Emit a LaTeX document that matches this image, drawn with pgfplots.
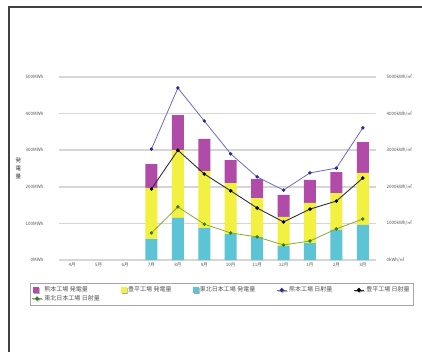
\documentclass[border=0pt]{standalone}
\usepackage{fontspec}
\setmainfont{Noto Sans CJK JP}
\usepackage{pgfplots}
\pgfplotsset{compat=1.18}
\usetikzlibrary{shadows}
\definecolor{cpur}{HTML}{B04CA8}
\definecolor{cyel}{HTML}{F2F040}
\definecolor{ccya}{HTML}{5CC4D4}
\definecolor{cblu}{HTML}{6A6AC8}
\definecolor{cbluM}{HTML}{2A2A90}
\definecolor{cblk}{HTML}{303030}
\definecolor{cgrn}{HTML}{8AA838}
\definecolor{cgrnM}{HTML}{2E7A2E}
\definecolor{ctxt}{HTML}{555555}
\begin{document}
\begin{tikzpicture}
\useasboundingbox (0pt,0pt) rectangle (422pt,351pt);
\fill[white] (0pt,0pt) rectangle (422pt,351pt);
\draw[line width=1.5pt, draw=black!75] (9pt,-5pt) -- (9pt,344pt) -- (430pt,344pt);
\begin{axis}[at={(59pt,91pt)}, anchor=south west, scale only axis,
  width=317pt, height=183pt,
  xmin=-0.5, xmax=11.5, ymin=0, ymax=5,
  ybar stacked, bar width=12pt,
  xtick={0,...,11},
  xticklabels={4月,5月,6月,7月,8月,9月,10月,11月,12月,1月,2月,3月},
  ytick={0,1,2,3,4,5},
  yticklabels={0MWh,100MWh,200MWh,300MWh,400MWh,500MWh},
  ymajorgrids, major grid style={line width=1.5pt, draw=black!16},
  axis line style={draw=none}, tick style={draw=none},
  ticklabel style={font=\fontsize{4.5}{5}\selectfont, text=ctxt},
  yticklabel style={xshift=-12pt},
  xticklabel style={yshift=1pt},
  ylabel={\shortstack{発\\電\\量}},
  ylabel style={rotate=-90, at={(axis description cs:-0.128,0.5)}, anchor=center, font=\fontsize{5.5}{6.5}\selectfont, text=black!80},
  legend columns=5,
  legend cell align=left,
  legend style={at={(axis description cs:-0.0915,-0.126)}, anchor=north west,
    draw=black!35, fill=white, drop shadow={opacity=0.25, shadow xshift=1pt, shadow yshift=-1pt},
    font=\fontsize{6}{7}\selectfont, text=ctxt, inner sep=1.5pt, row sep=-2pt,
    /tikz/every even column/.append style={column sep=19pt}},
]
\addplot[fill=ccya, draw=none, forget plot] coordinates {(3,0.57) (4,1.15) (5,0.87) (6,0.71) (7,0.63) (8,0.38) (9,0.46) (10,0.82) (11,0.96)};
\addplot[fill=cyel, draw=none, forget plot] coordinates {(3,1.40) (4,1.85) (5,1.56) (6,1.39) (7,1.06) (8,0.80) (9,1.10) (10,1.01) (11,1.42)};
\addplot[fill=cpur, draw=none, forget plot] coordinates {(3,0.65) (4,0.96) (5,0.88) (6,0.63) (7,0.52) (8,0.60) (9,0.63) (10,0.57) (11,0.84)};
\addlegendimage{legend image code/.code={\fill[cpur] (1pt,-2.5pt) rectangle (6pt,2.5pt);}}
\addlegendentry{熊本工場 発電量}
\addlegendimage{legend image code/.code={\fill[cyel] (1pt,-2.5pt) rectangle (6pt,2.5pt);}}
\addlegendentry{豊平工場 発電量}
\addlegendimage{legend image code/.code={\fill[ccya] (1pt,-2.5pt) rectangle (6pt,2.5pt);}}
\addlegendentry{東北日本工場 発電量}
\addlegendimage{legend image code/.code={\draw[cblu, line width=0.8pt] (0pt,0pt) -- (10pt,0pt); \fill[cbluM] (5pt,2pt) -- (6.8pt,0pt) -- (5pt,-2pt) -- (3.2pt,0pt) -- cycle;}}
\addlegendentry{熊本工場 日射量}
\addlegendimage{legend image code/.code={\draw[cblk, line width=0.8pt] (0pt,0pt) -- (10pt,0pt); \fill[black] (5pt,2pt) -- (6.8pt,0pt) -- (5pt,-2pt) -- (3.2pt,0pt) -- cycle;}}
\addlegendentry{豊平工場 日射量}
\addlegendimage{legend image code/.code={\draw[cgrn, line width=0.8pt] (0pt,0pt) -- (10pt,0pt); \fill[cgrnM] (5pt,2pt) -- (6.8pt,0pt) -- (5pt,-2pt) -- (3.2pt,0pt) -- cycle;}}
\addlegendentry{東北日本工場 日射量}
\end{axis}
\begin{axis}[at={(59pt,91pt)}, anchor=south west, scale only axis,
  width=317pt, height=183pt,
  xmin=-0.5, xmax=11.5, ymin=0, ymax=5000,
  axis y line*=right, hide x axis,
  axis line style={draw=none}, tick style={draw=none},
  ytick={0,1000,2000,3000,4000,5000},
  yticklabels={0kWh/㎡,1000kWh/㎡,2000kWh/㎡,3000kWh/㎡,4000kWh/㎡,5000kWh/㎡},
  yticklabel style={font=\fontsize{4.5}{5}\selectfont, text=ctxt, xshift=7pt},
]
\addplot[cgrn, line width=0.8pt, mark=*, mark size=1.3pt, mark options={cgrnM}] coordinates {(3,740) (4,1450) (5,980) (6,740) (7,630) (8,410) (9,520) (10,850) (11,1120)};
\addplot[cblk, line width=0.9pt, mark=*, mark size=1.3pt, mark options={black}] coordinates {(3,1940) (4,3000) (5,2350) (6,1890) (7,1420) (8,1040) (9,1390) (10,1610) (11,2240)};
\addplot[cblu, line width=0.8pt, mark=*, mark size=1.3pt, mark options={cbluM}] coordinates {(3,3030) (4,4700) (5,3800) (6,2900) (7,2270) (8,1910) (9,2380) (10,2510) (11,3610)};
\end{axis}
\end{tikzpicture}
\end{document}
